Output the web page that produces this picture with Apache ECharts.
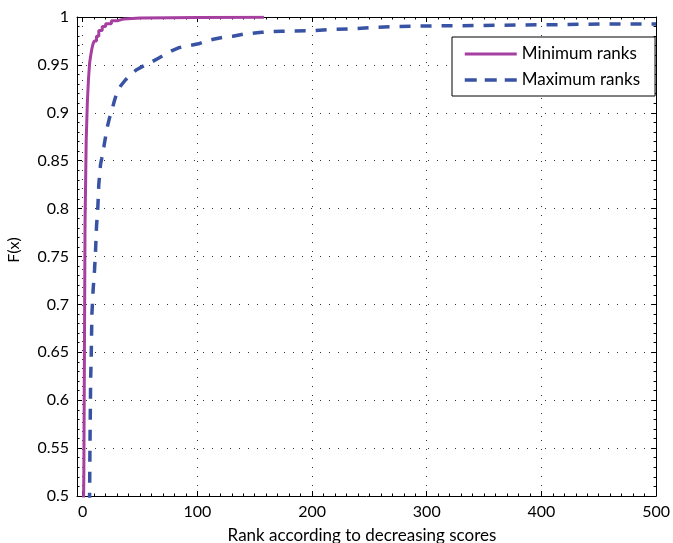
<!DOCTYPE html>
<html>
<head>
<meta charset="utf-8">
<script src="https://cdn.jsdelivr.net/npm/echarts@6/dist/echarts.min.js"></script>
<style>
  html, body { margin: 0; padding: 0; background: #fff; }
  #chart { width: 673px; height: 543px; }
</style>
</head>
<body>
<div id="chart"></div>
<script>
// Tick labels
const xTickValues = [0, 100, 200, 300, 400, 500];
const yMin = 0.5, yMax = 1, yStep = 0.05;

// Empirical CDF of the minimum ranks (step plot)
const minRankX = [0, 1, 2, 3, 4, 5, 6, 7, 8, 9, 10, 12, 14, 17, 20, 25, 30, 36, 50, 77, 100, 158];
const minRankF = [0.40, 0.528, 0.783, 0.870, 0.910, 0.935, 0.952, 0.960, 0.967, 0.972, 0.975, 0.980, 0.986, 0.990, 0.993, 0.996, 0.998, 0.999, 0.9993, 0.9995, 0.9997, 1.0];

// Empirical CDF of the maximum ranks
const maxRankX = [5.8, 6.3, 6.9, 7.4, 8, 9.1, 10.3, 11.2, 12, 13.2, 14, 15.5, 16.5, 18.5, 21.2, 23.2, 25.5, 27.5, 29.8, 33, 37, 42, 47, 53, 60, 66, 72, 78, 84, 92, 101, 108, 115, 123, 131, 140, 148, 156, 164, 173, 183, 201, 218, 237, 254, 273, 291, 310, 346, 382, 420, 453, 500];
const maxRankF = [0.47, 0.55, 0.622, 0.646, 0.69, 0.716, 0.736, 0.757, 0.781, 0.802, 0.825, 0.846, 0.852, 0.865, 0.884, 0.894, 0.903, 0.912, 0.921, 0.928, 0.934, 0.940, 0.945, 0.949, 0.953, 0.957, 0.961, 0.965, 0.968, 0.970, 0.972, 0.975, 0.977, 0.979, 0.980, 0.982, 0.983, 0.984, 0.9847, 0.9851, 0.9854, 0.9857, 0.987, 0.9877, 0.9892, 0.990, 0.9904, 0.9908, 0.9911, 0.9917, 0.9921, 0.9927, 0.9927];

const seriesNames = ['Minimum ranks', 'Maximum ranks'];
const colors = ['#a63fa0', '#3953a4'];
const lineWidths = [3, 3.5];
const blueDash = [11, 10];

// minor tick positions every 10 ranks
const xMinorValues = [];
for (let v = 10; v < 500; v += 10) if (v % 100 !== 0) xMinorValues.push(v);

const FONT = 'Lato, "Open Sans", sans-serif';
const zip = (xs, ys) => xs.map((x, i) => [x, ys[i]]);

const chart = echarts.init(document.getElementById('chart'), null, { renderer: 'canvas' });

const gridDots = { show: true, lineStyle: { color: '#333', width: 1, type: [1, 8] } };

function xAxisDef(position, major) {
  return {
    type: 'value', min: -5, max: 500, position: position, gridIndex: 0,
    axisLine: { show: major, onZero: false, lineStyle: { color: '#000', width: 1 } },
    axisTick: { show: true, inside: true, length: major ? 5 : 2.5,
                customValues: major ? xTickValues : xMinorValues,
                lineStyle: { color: '#000', width: 1 } },
    axisLabel: { show: major && position === 'bottom', customValues: xTickValues,
                 fontSize: 16, fontFamily: FONT, color: '#000', margin: 8 },
    splitLine: major && position === 'bottom' ? gridDots : { show: false }
  };
}

function yAxisDef(position) {
  const left = position === 'left';
  return {
    type: 'value', min: yMin, max: yMax, interval: yStep, position: position,
    axisLine: { show: true, onZero: false, lineStyle: { color: '#000', width: 1 } },
    axisTick: { show: true, inside: true, length: 5, lineStyle: { color: '#000', width: 1 } },
    minorTick: { show: true, splitNumber: 5, length: 2.5, lineStyle: { color: '#000', width: 1 } },
    axisLabel: { show: left, fontSize: 16, fontFamily: FONT, color: '#000', margin: 8 },
    splitLine: left ? gridDots : { show: false }
  };
}

chart.setOption({
  animation: false,
  backgroundColor: '#fff',
  grid: { left: 77, right: 11, top: 17, bottom: 47, containLabel: false },
  xAxis: [xAxisDef('bottom', true), xAxisDef('bottom', false), xAxisDef('top', true), xAxisDef('top', false)],
  yAxis: [yAxisDef('left'), yAxisDef('right')],
  legend: {
    orient: 'vertical', left: 452, top: 37,
    padding: [8, 15, 7, 11], itemGap: 8,
    itemWidth: 52, itemHeight: 14,
    backgroundColor: '#fff', borderColor: '#000', borderWidth: 1,
    itemStyle: { opacity: 0 },
    textStyle: { fontSize: 17, fontFamily: FONT, color: '#000', lineHeight: 18 },
    data: [
      { name: seriesNames[0], lineStyle: { width: lineWidths[0], color: colors[0], type: 'solid' } },
      { name: seriesNames[1], lineStyle: { width: lineWidths[1], color: colors[1], type: [12, 8], cap: 'butt' } }
    ]
  },
  series: [
    {
      name: seriesNames[0], type: 'line', step: 'end',
      xAxisIndex: 0, yAxisIndex: 0,
      symbol: 'none', clip: true,
      lineStyle: { color: colors[0], width: lineWidths[0] },
      itemStyle: { color: colors[0] },
      data: zip(minRankX, minRankF)
    },
    {
      name: seriesNames[1], type: 'line',
      xAxisIndex: 0, yAxisIndex: 0,
      symbol: 'none', clip: true,
      lineStyle: { color: colors[1], width: lineWidths[1], type: blueDash, cap: 'butt' },
      itemStyle: { color: colors[1] },
      data: zip(maxRankX, maxRankF)
    }
  ],
  graphic: [
    { type: 'text', x: 362, y: 527,
      style: { text: 'Rank according to decreasing scores', font: '17px ' + FONT, fill: '#000',
               textAlign: 'center', textVerticalAlign: 'top' } },
    { type: 'text', x: 14, y: 250, rotation: Math.PI / 2,
      style: { text: 'F(x)', font: '16px ' + FONT, fill: '#000',
               textAlign: 'center', textVerticalAlign: 'middle' } }
  ]
});
</script>
</body>
</html>
